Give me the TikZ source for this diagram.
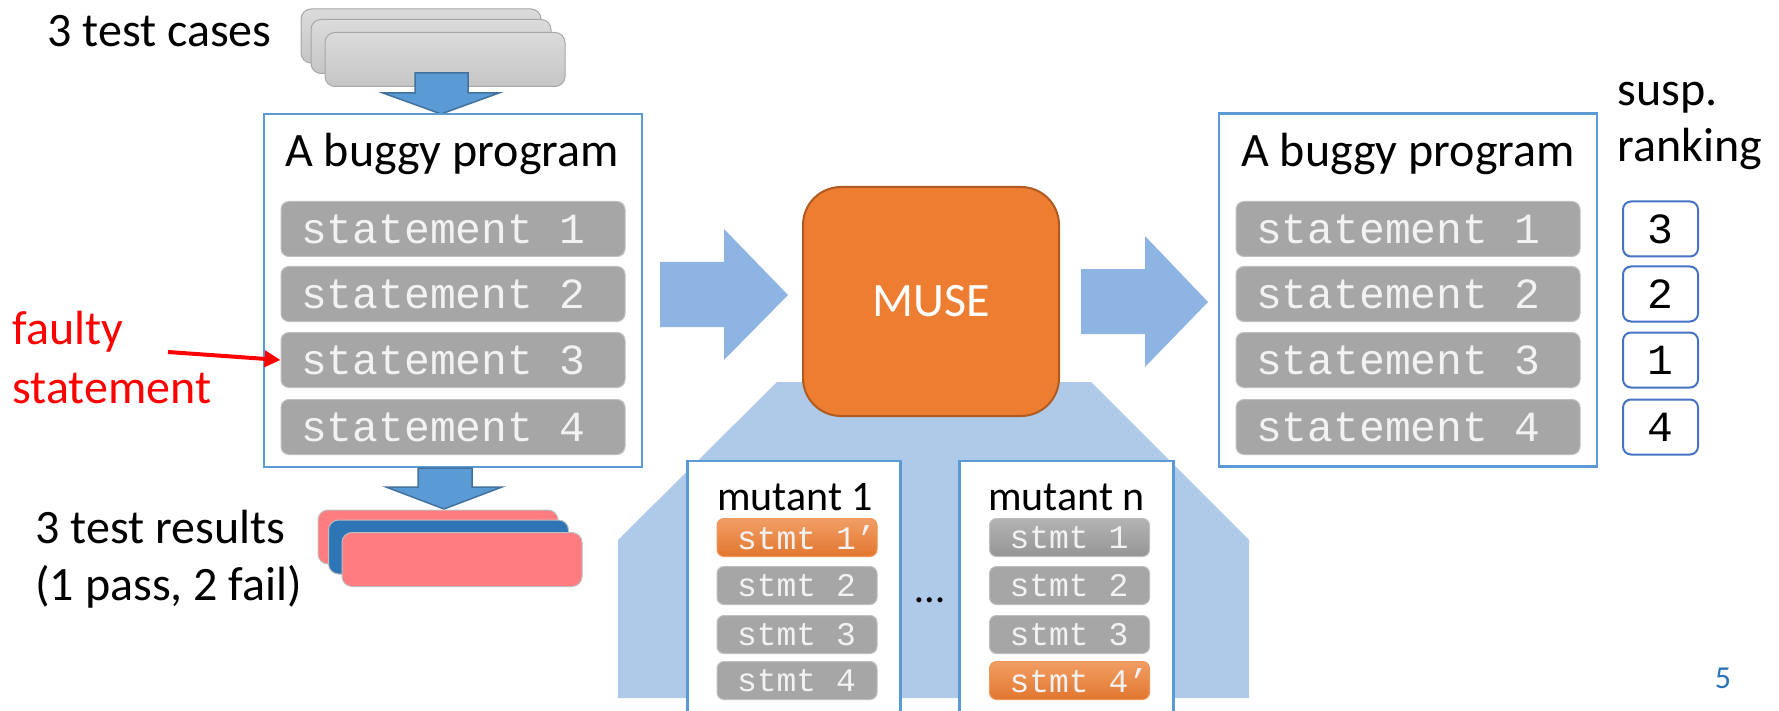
\documentclass[tikz,border=0pt]{standalone}
\usepackage{fontspec}
\setmainfont{Carlito}
\newfontfamily\codefont{Liberation Mono}
\usetikzlibrary{arrows.meta}

\definecolor{boxblue}{HTML}{5B9BD5}
\definecolor{arrowblue}{HTML}{5B9BD5}
\definecolor{arrowedge}{HTML}{41719C}
\definecolor{bigarrow}{HTML}{8DB4E2}
\definecolor{trapblue}{HTML}{AECAE8}
\definecolor{stmtgray}{HTML}{A6A6A6}
\definecolor{stmtedge}{HTML}{BFBFBF}
\definecolor{stmttext}{HTML}{F2F2F2}
\definecolor{museorange}{HTML}{ED7D31}
\definecolor{museedge}{HTML}{AE5A21}
\definecolor{failpink}{HTML}{FF7C80}
\definecolor{passblue}{HTML}{2E75B6}
\definecolor{rankblue}{HTML}{4472C4}
\definecolor{pageblue}{HTML}{2E75B6}

\newcommand{\lline}[2]{\makebox[#1][l]{#2}}

\begin{document}
\begin{tikzpicture}[x=1pt, y=-1pt, thick]
  % Define styles
  \tikzstyle{txt} = [inner sep=0pt, font=\fontsize{48}{58}\selectfont]
  \tikzstyle{mtxt} = [inner sep=0pt, font=\fontsize{42}{42}\selectfont]
  \tikzstyle{progbox} = [rectangle, draw=boxblue, line width=2.5pt, fill=white, minimum width=378pt, minimum height=353pt]
  \tikzstyle{stmtbox} = [rectangle, rounded corners=8pt, fill=stmtgray, draw=stmtedge, line width=1pt, minimum width=344pt, minimum height=55pt, inner xsep=20pt, inner ysep=0pt, text=stmttext, font=\codefont\fontsize{43}{43}\selectfont]
  \tikzstyle{mstmtbox} = [rectangle, rounded corners=7pt, fill=stmtgray, draw=stmtedge, line width=1pt, minimum width=160pt, minimum height=38pt, inner xsep=20pt, inner ysep=0pt, text=stmttext, font=\codefont\fontsize{33}{33}\selectfont]
  \tikzstyle{mstmtorange} = [mstmtbox, draw=museorange!80!white, top color=museorange!75!white, bottom color=museorange!95!black]
  \tikzstyle{mstmtshade} = [mstmtbox, top color=stmtgray!85!white, bottom color=stmtgray!90!black]
  \tikzstyle{rankbox} = [rectangle, rounded corners=8pt, draw=rankblue, line width=2pt, fill=white, minimum width=75pt, minimum height=55pt, inner sep=0pt, font=\codefont\fontsize{43}{43}\selectfont]
  \tikzstyle{casecard} = [rectangle, rounded corners=10pt, draw=gray!70, line width=1pt, top color=gray!28, bottom color=gray!45, minimum width=240pt, minimum height=54pt]
  \tikzstyle{failcard} = [rectangle, rounded corners=10pt, draw=stmtedge, line width=1pt, fill=failpink, minimum width=240pt, minimum height=54pt]
  \tikzstyle{passcard} = [failcard, fill=passblue]
  \tikzstyle{blockarrow} = [fill=arrowblue, draw=arrowedge, line width=1.5pt]
  \tikzstyle{faultarrow} = [red, line width=4pt, -{Triangle[length=16pt, width=16pt]}]

  \useasboundingbox (0,0) rectangle (1779,711);

  % Mutation cone behind MUSE
  \fill[trapblue] (777,382) -- (1091,382) -- (1249,540) -- (1249,698) -- (618,698) -- (618,540) -- cycle;

  % Test cases
  \node[casecard] (case1) at (421,36) {};
  \node[casecard] (case2) at (431,46.5) {};
  \node[casecard] (case3) at (445,59.5) {};
  \node[txt, anchor=base west] (caseslabel) at (47,47) {3 test cases};
  \draw[blockarrow] (415,73) -- (468,73) -- (468,93) -- (499,93) -- (441,114) -- (383,93) -- (415,93) -- cycle;

  % Left program
  \node[progbox] (lprog) at (453,290.5) {};
  \node[txt, anchor=base] (ltitle) at (452,167) {A buggy program};
  \node[stmtbox] (ls1) at (453,229) {\lline{304pt}{statement 1}};
  \node[stmtbox] (ls2) at (453,294) {\lline{304pt}{statement 2}};
  \node[stmtbox] (ls3) at (453,360) {\lline{304pt}{statement 3}};
  \node[stmtbox] (ls4) at (453,427) {\lline{304pt}{statement 4}};

  % Faulty statement label
  \node[txt, red, anchor=base west] (faulty) at (12,344) {faulty};
  \node[txt, red, anchor=base west] (faultystmt) at (12,403) {statement};
  \coordinate (faultytail) at (168,352);
  \draw[faultarrow] (faultytail) -- (ls3.west);

  % Test results
  \draw[blockarrow] (418,468) -- (472,468) -- (472,487) -- (502,487) -- (444,509) -- (386,487) -- (418,487) -- cycle;
  \node[failcard] (res1) at (438,537) {};
  \node[passcard] (res2) at (448.5,547) {};
  \node[failcard] (res3) at (462,559.5) {};
  \node[txt, anchor=base west] (reslabel) at (35,543) {3 test results};
  \node[txt, anchor=base west] (resdetail) at (35,600) {(1 pass, 2 fail)};

  % MUSE
  \fill[bigarrow] (660,262) -- (724,262) -- (724,229) -- (788,295) -- (724,360) -- (724,327) -- (660,327) -- cycle;
  \node[rectangle, rounded corners=38pt, fill=museorange, draw=museedge, line width=2pt, minimum width=256pt, minimum height=229pt, text=white, font=\fontsize{48}{58}\selectfont] (muse) at (931,301.5) {MUSE};
  \fill[bigarrow] (1081,269) -- (1145,269) -- (1145,236) -- (1208,302) -- (1145,367) -- (1145,334) -- (1081,334) -- cycle;

  % Mutants
  \node[fill=white, minimum width=212pt, minimum height=250pt, anchor=north, inner sep=0pt] (mut1) at (794,461) {};
  \draw[boxblue, line width=2.5pt] (mut1.south west) |- (mut1.north east) -- (mut1.south east);
  \node[mtxt, anchor=base] (mut1label) at (795,510.5) {mutant 1};
  \node[mstmtorange] (m1s1) at (797,537.5) {\lline{120pt}{stmt 1’}};
  \node[mstmtbox] (m1s2) at (797,585.5) {\lline{120pt}{stmt 2}};
  \node[mstmtbox] (m1s3) at (797,634.5) {\lline{120pt}{stmt 3}};
  \node[mstmtbox] (m1s4) at (797,680.5) {\lline{120pt}{stmt 4}};

  \node[mtxt, anchor=base] (dots) at (930,602) {…};

  \node[fill=white, minimum width=213pt, minimum height=250pt, anchor=north, inner sep=0pt] (mutn) at (1066.5,461) {};
  \draw[boxblue, line width=2.5pt] (mutn.south west) |- (mutn.north east) -- (mutn.south east);
  \node[mtxt, anchor=base] (mutnlabel) at (1066.5,510.5) {mutant n};
  \node[mstmtshade] (mns1) at (1069.5,537.5) {\lline{120pt}{stmt 1}};
  \node[mstmtbox] (mns2) at (1069.5,585.5) {\lline{120pt}{stmt 2}};
  \node[mstmtbox] (mns3) at (1069.5,634.5) {\lline{120pt}{stmt 3}};
  \node[mstmtorange] (mns4) at (1069.5,680.5) {\lline{120pt}{stmt 4’}};

  % Right program with ranking
  \node[progbox] (rprog) at (1408,290) {};
  \node[txt, anchor=base] (rtitle) at (1408,167) {A buggy program};
  \node[stmtbox] (rs1) at (1408,229) {\lline{304pt}{statement 1}};
  \node[stmtbox] (rs2) at (1408,294) {\lline{304pt}{statement 2}};
  \node[stmtbox] (rs3) at (1408,360) {\lline{304pt}{statement 3}};
  \node[stmtbox] (rs4) at (1408,427) {\lline{304pt}{statement 4}};

  \node[txt, anchor=base west] (susp) at (1617,106) {susp.};
  \node[txt, anchor=base west] (ranking) at (1617,162) {ranking};
  \node[rankbox] (rank1) at (1660.5,229) {3};
  \node[rankbox] (rank2) at (1660.5,294) {2};
  \node[rankbox] (rank3) at (1660.5,360) {1};
  \node[rankbox] (rank4) at (1660.5,427) {4};

  % Page number
  \node[inner sep=0pt, anchor=base, text=pageblue, font=\fontsize{32}{32}\selectfont] (pagenum) at (1723,688) {5};
\end{tikzpicture}
\end{document}
